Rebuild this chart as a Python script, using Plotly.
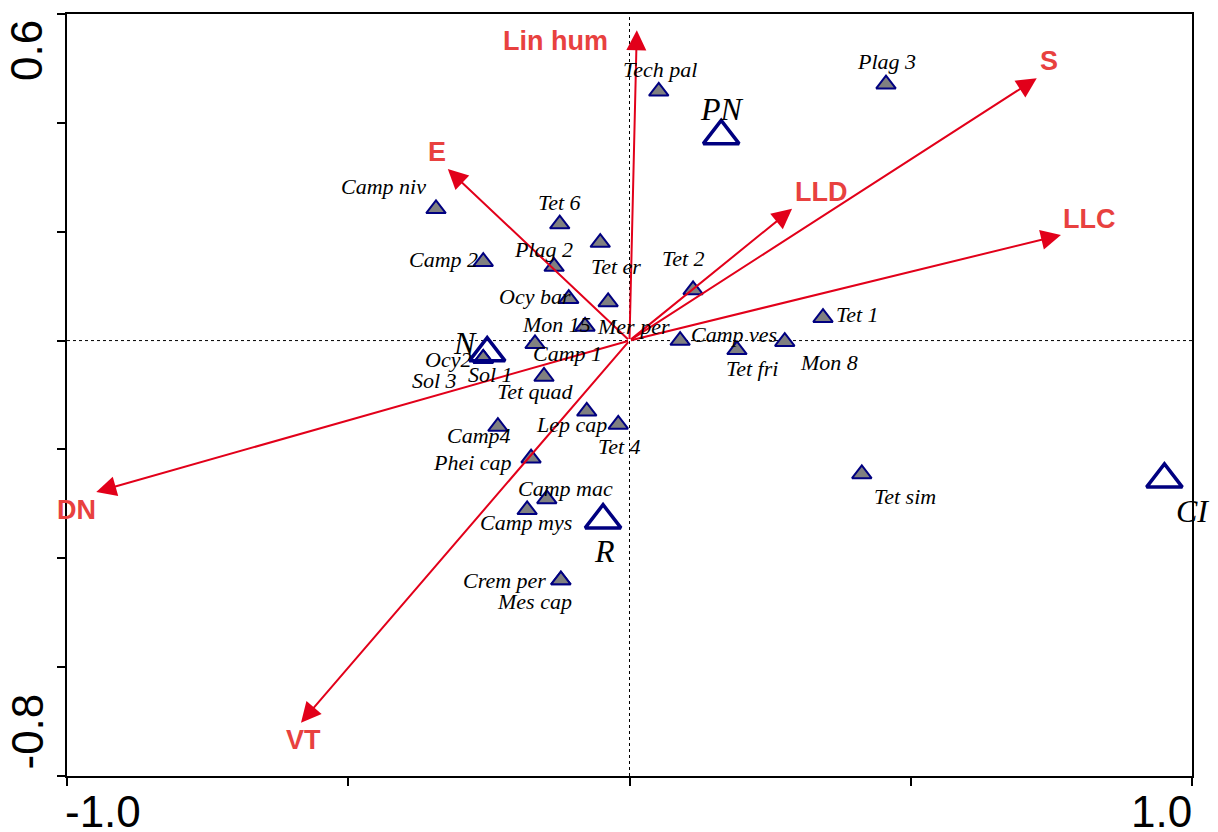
import plotly.graph_objects as go

# ---- data ----
species = ["Tech pal", "Plag 3", "Camp niv", "Tet 6", "Tet er", "Camp 2", "Plag 2",
           "Ocy bar", "Mer per", "Mon 15", "Tet 2", "Camp 1", "Ocy2", "Sol 3", "Sol 1",
           "Tet quad", "Lep cap", "Tet 4", "Camp4", "Phei cap", "Camp mac", "Camp mys",
           "Crem per", "Mes cap", "Camp ves", "Tet fri", "Mon 8", "Tet 1", "Tet sim"]
species_x = [0.052, 0.456, -0.344, -0.124, -0.052, -0.260, -0.134,
             -0.108, -0.038, -0.079, 0.113, -0.168, -0.260, -0.260, -0.260,
             -0.152, -0.076, -0.020, -0.234, -0.175, -0.147, -0.182,
             -0.122, -0.122, 0.090, 0.191, 0.276, 0.344, 0.413]
species_y = [0.458, 0.471, 0.242, 0.214, 0.180, 0.145, 0.136,
             0.077, 0.071, 0.026, 0.093, -0.006, -0.033, -0.033, -0.033,
             -0.066, -0.130, -0.154, -0.158, -0.216, -0.291, -0.311,
             -0.440, -0.440, 0.000, -0.017, -0.002, 0.042, -0.245]

sites = ["PN", "N", "R", "CI"]
sites_x = [0.163, -0.253, -0.047, 0.951]
sites_y = [0.376, -0.023, -0.330, -0.255]

variables = ["Lin hum", "E", "S", "LLD", "LLC", "DN", "VT"]
variables_x = [0.013, -0.323, 0.724, 0.289, 0.767, -0.948, -0.584]
variables_y = [0.570, 0.315, 0.482, 0.242, 0.194, -0.278, -0.702]

x_tick_vals = [-1.0, -0.5, 0.0, 0.5, 1.0]
y_tick_vals = [-0.8, -0.6, -0.4, -0.2, 0.0, 0.2, 0.4, 0.6]
x_end_labels = ["-1.0", "1.0"]
y_end_labels = ["-0.8", "0.6"]

# ---- label offsets (pixels, dx right, dy down) ----
species_off = {
    "Tech pal": (1, -22), "Plag 3": (0, -23), "Camp niv": (-53, -22), "Tet 6": (0, -22),
    "Tet er": (16, 24), "Camp 2": (-40, -2), "Plag 2": (-11, -17), "Ocy bar": (-34, -2),
    "Mer per": (25, 25), "Mon 15": (-29, -2), "Tet 2": (-10, -31), "Camp 1": (32, 10),
    "Ocy2": (-35, 1), "Sol 3": (-49, 22), "Sol 1": (7, 16), "Tet quad": (-9, 15),
    "Lep cap": (-15, 13), "Tet 4": (1, 22), "Camp4": (-19, 9), "Phei cap": (-59, 4),
    "Camp mac": (19, -10), "Camp mys": (-1, 13), "Crem per": (-56, 0), "Mes cap": (-26, 21),
    "Camp ves": (54, -6), "Tet fri": (15, 19), "Mon 8": (44, 21), "Tet 1": (34, -3),
    "Tet sim": (43, 23),
}
site_off = {"PN": (1, -27), "N": (-22, -10), "R": (1, 31), "CI": (28, 32)}
# variable label pixel offsets relative to the arrow tip
var_off = {"Lin hum": (-81, 11), "E": (-11, -17), "S": (12, -17), "LLD": (29, -17),
           "LLC": (28, -16), "DN": (-20, 18), "VT": (2, 17)}

ARROW = "#E2001A"
LABEL_RED = "#E8413F"
NAVY = "#000080"

fig = go.Figure()

fig.add_trace(go.Scatter(
    x=species_x, y=species_y, mode="markers", hoverinfo="text", text=species,
    marker=dict(symbol="triangle-up", size=17, color="#808080",
                line=dict(color=NAVY, width=2)),
    showlegend=False))

fig.add_trace(go.Scatter(
    x=sites_x, y=sites_y, mode="markers", hoverinfo="text", text=sites,
    marker=dict(symbol="triangle-up-open", size=31, color=NAVY,
                line=dict(color=NAVY, width=3.5)),
    showlegend=False))

ann = []
# environmental arrows
for name, vx, vy in zip(variables, variables_x, variables_y):
    ann.append(dict(x=vx, y=vy, ax=0, ay=0, xref="x", yref="y", axref="x", ayref="y",
                    text="", showarrow=True, arrowhead=2, arrowsize=2.0, arrowwidth=2,
                    arrowcolor=ARROW, standoff=0))
    dx, dy = var_off[name]
    ann.append(dict(x=vx, y=vy, xref="x", yref="y", text=name, showarrow=False,
                    xshift=dx, yshift=-dy,
                    font=dict(family="Liberation Sans", size=27, color=LABEL_RED,
                              weight="bold")))

for name, sx, sy in zip(species, species_x, species_y):
    dx, dy = species_off[name]
    ann.append(dict(x=sx, y=sy, xref="x", yref="y", text=name, showarrow=False,
                    xshift=dx, yshift=-dy,
                    font=dict(family="Liberation Serif", size=22, color="black",
                              style="italic")))

for name, sx, sy in zip(sites, sites_x, sites_y):
    dx, dy = site_off[name]
    ann.append(dict(x=sx, y=sy, xref="x", yref="y", text=name, showarrow=False,
                    xshift=dx, yshift=-dy,
                    font=dict(family="Liberation Serif", size=32, color="black",
                              style="italic")))

# axis end labels
tickfont = dict(family="Liberation Sans", size=44, color="black")
ann.append(dict(x=x_tick_vals[0], y=0, xref="x", yref="paper", text=x_end_labels[0],
                showarrow=False, xanchor="left", yanchor="top", yshift=-9, xshift=-4,
                font=tickfont))
ann.append(dict(x=x_tick_vals[-1], y=0, xref="x", yref="paper", text=x_end_labels[1],
                showarrow=False, xanchor="right", yanchor="top", yshift=-9, xshift=2,
                font=tickfont))
ann.append(dict(x=0, y=y_tick_vals[0], xref="paper", yref="y", text=y_end_labels[0],
                showarrow=False, xanchor="right", yanchor="bottom", xshift=-14, yshift=4,
                textangle=-90, font=tickfont))
ann.append(dict(x=0, y=y_tick_vals[-1], xref="paper", yref="y", text=y_end_labels[1],
                showarrow=False, xanchor="right", yanchor="top", xshift=-14, yshift=-4,
                textangle=-90, font=tickfont))

shapes = [
    dict(type="line", xref="x", yref="paper", x0=0, x1=0, y0=0, y1=1,
         line=dict(color="black", width=1, dash="dot"), layer="below"),
    dict(type="line", xref="paper", yref="y", x0=0, x1=1, y0=0, y1=0,
         line=dict(color="black", width=1, dash="dot"), layer="below"),
]

axis_common = dict(showgrid=False, zeroline=False, showline=True, linecolor="black",
                   linewidth=2, mirror=True, ticks="outside", ticklen=8, tickwidth=2,
                   tickcolor="black")

fig.update_layout(
    width=1218, height=832,
    margin=dict(l=67, r=26, t=12, b=56),
    paper_bgcolor="white", plot_bgcolor="white",
    xaxis=dict(range=[-1.0, 1.0], tickvals=x_tick_vals,
               ticktext=[""] * len(x_tick_vals), **axis_common),
    yaxis=dict(range=[-0.8, 0.6], tickvals=y_tick_vals,
               ticktext=[""] * len(y_tick_vals), **axis_common),
    annotations=ann, shapes=shapes, showlegend=False,
)

fig.write_html("out.html", config={"displayModeBar": False},
               post_script="document.body.style.margin='0';document.body.style.overflow='hidden';")
